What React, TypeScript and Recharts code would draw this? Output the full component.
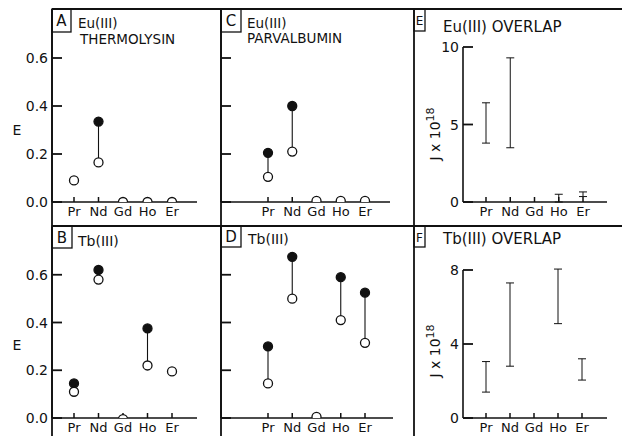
import React from "react"
import { ComposedChart, ErrorBar, Line, ReferenceLine, XAxis, YAxis } from "recharts"

const INK = "#111"
const FONT = "'DejaVu Sans', 'Liberation Sans', sans-serif"

const ELEMENTS = ["Pr", "Nd", "Gd", "Ho", "Er"]

// efficiency E, filled and open circles
const EU_THERMO_FILLED = [null, 0.335, null, null, null]
const EU_THERMO_OPEN = [0.09, 0.165, 0, 0, 0]
const EU_PARV_FILLED = [0.205, 0.4, null, null, null]
const EU_PARV_OPEN = [0.105, 0.21, 0.005, 0.005, 0.005]
const TB_THERMO_FILLED = [0.145, 0.62, null, 0.375, null]
const TB_THERMO_OPEN = [0.11, 0.58, -0.005, 0.22, 0.195]
const TB_PARV_FILLED = [0.3, 0.675, null, 0.59, 0.525]
const TB_PARV_OPEN = [0.145, 0.5, 0.005, 0.41, 0.315]

// overlap integral J x 10^18, low / high ends
const EU_J_LOW = [3.8, 3.5, null, 0, 0.35]
const EU_J_HIGH = [6.4, 9.3, null, 0.5, 0.65]
const TB_J_LOW = [1.4, 2.8, null, 5.1, 2.05]
const TB_J_HIGH = [3.05, 7.3, null, 8.05, 3.2]

const E_TICKS = [0, 0.2, 0.4, 0.6]
const EU_J_TICKS = [0, 5, 10]
const TB_J_TICKS = [0, 4, 8]

type Num = number | null

// open point carries an error bar reaching up to the filled point
function effRows(filled: Num[], open: Num[]) {
  return ELEMENTS.map((name, i) => {
    const f = filled[i]
    const o = open[i]
    return {
      name,
      filled: f,
      open: o,
      link: f != null && o != null ? [0, f - o] : [0, 0],
    }
  })
}

// low end carries an error bar reaching up to the high end
function rangeRows(low: Num[], high: Num[]) {
  return ELEMENTS.map((name, i) => {
    const lo = low[i]
    const hi = high[i]
    return {
      name,
      low: lo,
      span: lo != null && hi != null ? [0, hi - lo] : [0, 0],
    }
  })
}

const XTick = (p: any) => (
  <text x={p.x} y={p.y + 14} textAnchor="middle" fontSize={13} fill={INK} fontFamily={FONT}>
    {p.payload.value}
  </text>
)

const yTick = (showLabel: boolean, fmt: (v: number) => string) => (p: any) =>
  showLabel ? (
    <text x={p.x} y={p.y} dy="0.36em" textAnchor="end" fontSize={14} fill={INK} fontFamily={FONT}>
      {fmt(p.payload.value)}
    </text>
  ) : (
    <g />
  )

// inward tick marks, drawn from the reference line geometry
const YMark = (p: any) => {
  const x = Math.min(p.x1, p.x2)
  return <path d={`M${x},${p.y1}H${x + 10}`} stroke={INK} strokeWidth={1.8} fill="none" />
}

const XMark = (p: any) => {
  const y = Math.max(p.y1, p.y2)
  return <path d={`M${p.x1},${y}V${y - 5}`} stroke={INK} strokeWidth={1.5} fill="none" />
}

const dotFn = (filled: boolean) => (p: any) => {
  if (p.cy == null || p.value == null) return <g key={p.index} />
  return (
    <circle
      key={p.index}
      cx={p.cx}
      cy={p.cy}
      r={4.5}
      fill={filled ? INK : "#fff"}
      stroke={INK}
      strokeWidth={1.3}
    />
  )
}

interface PanelProps {
  left: number
  top: number
  width: number
  height: number
  margin: { top: number; right: number; bottom: number; left: number }
  yWidth: number
  xHeight: number
  pad: { left: number; right: number }
  domain: [number, number]
  ticks: number[]
  showYLabels: boolean
  fmt: (v: number) => string
  rows: any[]
  kind: "eff" | "range"
}

function Panel(props: PanelProps) {
  const { left, top, width, height, margin, yWidth, xHeight, pad, domain, ticks, showYLabels, fmt, rows, kind } =
    props
  return (
    <div style={{ position: "absolute", left, top, width, height }}>
      <ComposedChart width={width} height={height} data={rows} margin={margin}>
        <XAxis
          dataKey="name"
          type="category"
          height={xHeight}
          padding={pad}
          interval={0}
          tickSize={0}
          tickMargin={0}
          tick={XTick}
          axisLine={{ stroke: INK, strokeWidth: 1.6 }}
          tickLine={false}
        />
        <YAxis
          type="number"
          domain={domain}
          ticks={ticks}
          allowDataOverflow
          width={yWidth}
          interval={0}
          tickSize={0}
          tickMargin={4}
          tick={yTick(showYLabels, fmt)}
          axisLine={{ stroke: INK, strokeWidth: 1.6 }}
          tickLine={false}
        />
        {ticks.map((t) => (
          <ReferenceLine key={"y" + t} y={t} shape={YMark} ifOverflow="visible" />
        ))}
        {ELEMENTS.map((c) => (
          <ReferenceLine key={"x" + c} x={c} shape={XMark} ifOverflow="visible" />
        ))}
        {kind === "eff" ? (
          <>
            <Line dataKey="filled" stroke="none" dot={dotFn(true)} activeDot={false} isAnimationActive={false} />
            <Line dataKey="open" stroke="none" dot={dotFn(false)} activeDot={false} isAnimationActive={false}>
              <ErrorBar dataKey="link" width={0} stroke={INK} strokeWidth={1.1} direction="y" />
            </Line>
          </>
        ) : (
          <Line dataKey="low" stroke="none" dot={false} activeDot={false} isAnimationActive={false}>
            <ErrorBar dataKey="span" width={4} stroke={INK} strokeWidth={1} direction="y" />
          </Line>
        )}
      </ComposedChart>
    </div>
  )
}

const fmtE = (v: number) => v.toFixed(1)
const fmtJ = (v: number) => String(v)

const txt = { fontFamily: FONT, fill: INK } as const

export default function App() {
  return (
    <div
      style={{
        position: "absolute",
        left: 0,
        top: 0,
        width: 622,
        height: 436,
        background: "#fff",
        overflow: "hidden",
      }}
    >
      {/* frames, panel letters and titles, kept underneath the charts */}
      <svg width={622} height={436} style={{ position: "absolute", left: 0, top: 0 }}>
        <g stroke={INK} strokeWidth={1.8}>
          <line x1={52} x2={622} y1={9} y2={9} />
          <line x1={52} x2={622} y1={226} y2={226} />
          <line x1={52} x2={52} y1={9} y2={436} />
          <line x1={221} x2={221} y1={9} y2={436} />
          <line x1={414} x2={414} y1={9} y2={436} />
        </g>
        <g fill="none" stroke={INK} strokeWidth={1.3}>
          <rect x={52} y={9} width={19} height={23} />
          <rect x={221} y={9} width={20} height={23} />
          <rect x={414} y={9} width={11} height={22} />
          <rect x={52} y={226} width={20} height={22} />
          <rect x={221} y={226} width={20} height={21} />
          <rect x={414} y={226} width={11} height={21} />
        </g>
        <g {...txt} fontSize={15} textAnchor="middle">
          <text x={61.5} y={26}>A</text>
          <text x={231} y={26}>C</text>
          <text x={419.5} y={25} fontSize={12}>E</text>
          <text x={62} y={243}>B</text>
          <text x={231} y={242}>D</text>
          <text x={419.5} y={242} fontSize={12}>F</text>
        </g>
        <g {...txt} fontSize={13.5}>
          <text x={78} y={28}>Eu(III)</text>
          <text x={80} y={44}>THERMOLYSIN</text>
          <text x={247} y={28}>Eu(III)</text>
          <text x={247} y={43}>PARVALBUMIN</text>
          <text x={443} y={32} fontSize={15}>Eu(III) OVERLAP</text>
          <text x={78} y={246} fontSize={14}>Tb(III)</text>
          <text x={248} y={244} fontSize={14}>Tb(III)</text>
          <text x={443} y={244} fontSize={15}>Tb(III) OVERLAP</text>
        </g>
        <g {...txt} fontSize={14} textAnchor="middle">
          <text x={17} y={135}>E</text>
          <text x={17} y={350}>E</text>
          <text x={435} y={134} transform="rotate(-90 435 134)" dy="0.36em">
            J x 10
            <tspan dy={-6} fontSize={11}>18</tspan>
          </text>
          <text x={435} y={351} transform="rotate(-90 435 351)" dy="0.36em">
            J x 10
            <tspan dy={-6} fontSize={11}>18</tspan>
          </text>
        </g>
      </svg>

      {/* A */}
      <Panel
        kind="eff"
        rows={effRows(EU_THERMO_FILLED, EU_THERMO_OPEN)}
        left={0}
        top={0}
        width={221}
        height={226}
        margin={{ top: 10, right: 24, bottom: 0, left: 0 }}
        yWidth={52}
        xHeight={24}
        pad={{ left: 22, right: 25 }}
        domain={[0, 0.8]}
        ticks={E_TICKS}
        showYLabels
        fmt={fmtE}
      />
      {/* B */}
      <Panel
        kind="eff"
        rows={effRows(TB_THERMO_FILLED, TB_THERMO_OPEN)}
        left={0}
        top={226}
        width={221}
        height={210}
        margin={{ top: 1, right: 24, bottom: 0, left: 0 }}
        yWidth={52}
        xHeight={18}
        pad={{ left: 22, right: 25 }}
        domain={[0, 0.8]}
        ticks={E_TICKS}
        showYLabels
        fmt={fmtE}
      />
      {/* C */}
      <Panel
        kind="eff"
        rows={effRows(EU_PARV_FILLED, EU_PARV_OPEN)}
        left={211}
        top={0}
        width={203}
        height={226}
        margin={{ top: 10, right: 24, bottom: 0, left: 0 }}
        yWidth={10}
        xHeight={24}
        pad={{ left: 47, right: 25 }}
        domain={[0, 0.8]}
        ticks={E_TICKS}
        showYLabels={false}
        fmt={fmtE}
      />
      {/* D */}
      <Panel
        kind="eff"
        rows={effRows(TB_PARV_FILLED, TB_PARV_OPEN)}
        left={211}
        top={226}
        width={203}
        height={210}
        margin={{ top: 1, right: 21, bottom: 0, left: 0 }}
        yWidth={10}
        xHeight={18}
        pad={{ left: 47, right: 28 }}
        domain={[0, 0.8]}
        ticks={E_TICKS}
        showYLabels={false}
        fmt={fmtE}
      />
      {/* E */}
      <Panel
        kind="range"
        rows={rangeRows(EU_J_LOW, EU_J_HIGH)}
        left={414}
        top={0}
        width={208}
        height={226}
        margin={{ top: 47, right: 15, bottom: 0, left: 0 }}
        yWidth={49}
        xHeight={24}
        pad={{ left: 23, right: 24 }}
        domain={[0, 10]}
        ticks={EU_J_TICKS}
        showYLabels
        fmt={fmtJ}
      />
      {/* F */}
      <Panel
        kind="range"
        rows={rangeRows(TB_J_LOW, TB_J_HIGH)}
        left={414}
        top={226}
        width={208}
        height={210}
        margin={{ top: 44, right: 15, bottom: 0, left: 0 }}
        yWidth={49}
        xHeight={18}
        pad={{ left: 23, right: 25 }}
        domain={[0, 8]}
        ticks={TB_J_TICKS}
        showYLabels
        fmt={fmtJ}
      />
    </div>
  )
}
